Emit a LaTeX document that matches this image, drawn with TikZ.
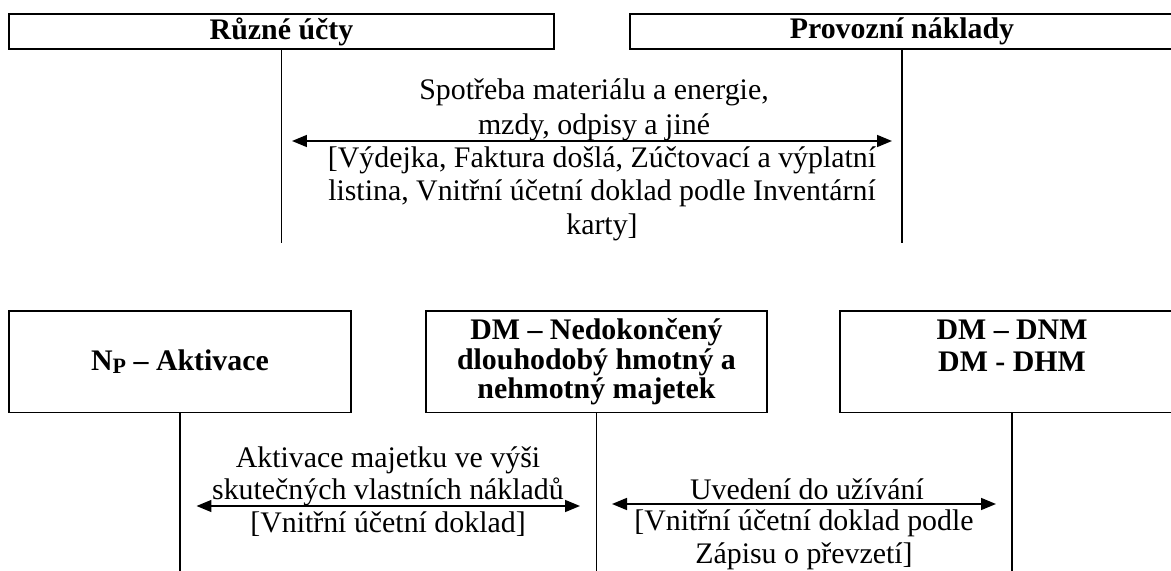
\documentclass[tikz,border=0pt]{standalone}
\usepackage{fontspec}
\setmainfont{Liberation Serif}
\usetikzlibrary{arrows.meta, positioning}

\begin{document}
\begin{tikzpicture}[x=0.02cm, y=-0.02cm,
    >={Triangle[length=0.3cm, width=0.24cm]},
    ucet/.style={draw, line width=0.9pt, inner sep=0pt, align=center,
      font=\fontsize{17}{18}\selectfont\bfseries},
    stopa/.style={line width=0.9pt},
    pohyb/.style={line width=0.9pt, <->},
    popis/.style={align=center, inner xsep=0pt, font=\fontsize{17}{19}\selectfont},
    nad/.style={popis, anchor=south, inner ysep=0pt},
    pod/.style={popis, anchor=north, inner ysep=3pt}
  ]
  \useasboundingbox (0,0) rectangle (1171,571);

  % horni ucty
  \node[ucet, minimum width=10.9cm, minimum height=0.7cm] (ruzne) at (281.5,31.5) {Různé účty};
  \node[ucet, minimum width=10.88cm, minimum height=0.7cm] (provozni) at (902,31.5) {Provozní náklady};
  \coordinate (ruzneEnd) at (281.5,243);
  \coordinate (provozniEnd) at (902,243);
  \draw[stopa] (ruzne) -- (ruzneEnd);
  \draw[stopa] (provozni) -- (provozniEnd);

  \coordinate (spotL) at (292,141);
  \coordinate (spotR) at (892,141);
  \draw[pohyb] (spotL) -- (spotR);
  \node[nad, font=\fontsize{17}{20}\selectfont] (spotreba) at (594,141)
    {Spotřeba materiálu a energie,\\mzdy, odpisy a jiné};
  \node[pod] (vydejka) at (602,141)
    {[Výdejka, Faktura došlá, Zúčtovací a výplatní\\listina, Vnitřní účetní doklad podle Inventární\\karty]};

  % dolni ucty
  \node[ucet, minimum width=6.84cm, minimum height=2.03cm] (aktivace) at (180,361.75)
    {N\raisebox{-1.3pt}{\fontsize{12.5}{12.5}\selectfont P} – Aktivace};
  \node[ucet, minimum width=6.82cm, minimum height=2.03cm, font=\fontsize{17}{16.8}\selectfont\bfseries] (nedokonceny) at (596.5,361.75)
    {DM – Nedokončený\\dlouhodobý hmotný a\\nehmotný majetek};
  \node[ucet, minimum width=6.88cm, minimum height=2.03cm] (majetek) at (1012,361.75)
    {DM – DNM\\DM - DHM\\\mbox{}};
  \coordinate (aktivaceEnd) at (180,575);
  \coordinate (nedokoncenyEnd) at (596.5,575);
  \coordinate (majetekEnd) at (1012,575);
  \draw[stopa] (aktivace) -- (aktivaceEnd);
  \draw[stopa] (nedokonceny) -- (nedokoncenyEnd);
  \draw[stopa] (majetek) -- (majetekEnd);

  \coordinate (aktL) at (196.5,506);
  \coordinate (aktR) at (580,506);
  \draw[pohyb] (aktL) -- (aktR);
  \node[nad, font=\fontsize{17}{18}\selectfont] (aktivaceMaj) at (388,506)
    {Aktivace majetku ve výši\\skutečných vlastních nákladů};
  \node[pod] (doklad) at (388,506) {[Vnitřní účetní doklad]};

  \coordinate (uvL) at (612,504);
  \coordinate (uvR) at (996,504);
  \draw[pohyb] (uvL) -- (uvR);
  \node[nad, yshift=2.3pt] (uvedeni) at (807,504) {Uvedení do užívání};
  \node[pod] (zapis) at (804,504) {[Vnitřní účetní doklad podle\\Zápisu o převzetí]};
\end{tikzpicture}
\end{document}
